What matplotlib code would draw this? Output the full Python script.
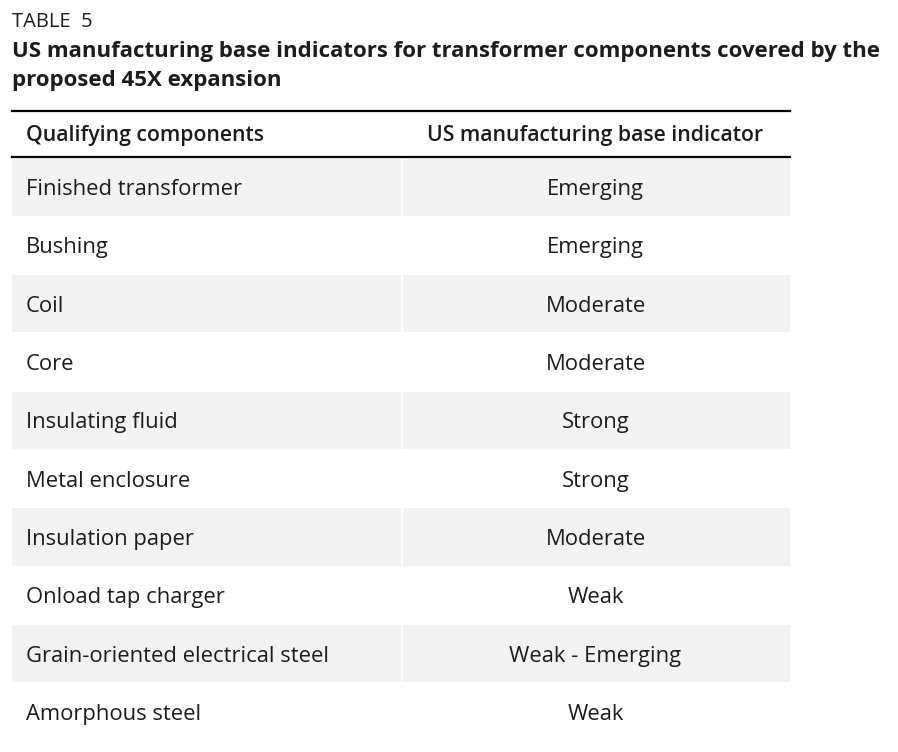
import matplotlib.pyplot as plt
from matplotlib.patches import Rectangle

plt.rcParams['font.family'] = ['Open Sans', 'DejaVu Sans']

LABEL = "TABLE  5"
TITLE = ("US manufacturing base indicators for transformer components covered by the\n"
         "proposed 45X expansion")
HEADERS = ["Qualifying components", "US manufacturing base indicator"]
COMPONENTS = [
    "Finished transformer",
    "Bushing",
    "Coil",
    "Core",
    "Insulating fluid",
    "Metal enclosure",
    "Insulation paper",
    "Onload tap charger",
    "Grain-oriented electrical steel",
    "Amorphous steel",
]
INDICATORS = [
    "Emerging",
    "Emerging",
    "Moderate",
    "Moderate",
    "Strong",
    "Strong",
    "Moderate",
    "Weak",
    "Weak - Emerging",
    "Weak",
]

W, H = 898, 752
LEFT, RIGHT, SPLIT = 12, 790, 401
TOP_RULE, HEAD_RULE = 111, 157
ROW_H = 58.3
SHADE = "#f2f2f2"
INK = "#1c1c1c"

fig = plt.figure(figsize=(W / 100, H / 100), dpi=100)
ax = fig.add_axes([0, 0, 1, 1])
ax.set_xlim(0, W)
ax.set_ylim(H, 0)
ax.axis("off")

ax.text(LEFT, 22, LABEL, fontsize=14.5, color=INK, va="center", ha="left")
ax.text(LEFT, 66, TITLE, fontsize=16, fontweight="bold", color=INK,
        va="center", ha="left", linespacing=1.5)

ax.plot([LEFT, RIGHT], [TOP_RULE, TOP_RULE], color="black", lw=1.6)
ax.plot([LEFT, RIGHT], [HEAD_RULE, HEAD_RULE], color="black", lw=1.6)

head_y = (TOP_RULE + HEAD_RULE) / 2 + 1.5
ax.text(LEFT + 14, head_y, HEADERS[0], fontsize=15.3, fontweight="semibold",
        color=INK, va="center", ha="left")
ax.text((SPLIT + RIGHT) / 2, head_y, HEADERS[1], fontsize=15.3,
        fontweight="semibold", color=INK, va="center", ha="center")

for i, (comp, ind) in enumerate(zip(COMPONENTS, INDICATORS)):
    y0 = HEAD_RULE + 1.5 + i * ROW_H
    if i % 2 == 0:
        ax.add_patch(Rectangle((LEFT, y0), SPLIT - LEFT, ROW_H - 1,
                               facecolor=SHADE, edgecolor="none"))
        ax.add_patch(Rectangle((SPLIT + 1.5, y0), RIGHT - SPLIT - 1.5, ROW_H - 1,
                               facecolor=SHADE, edgecolor="none"))
    yc = y0 + ROW_H / 2 + 2
    ax.text(LEFT + 14, yc, comp, fontsize=15.8, color=INK, va="center", ha="left")
    ax.text((SPLIT + RIGHT) / 2, yc, ind, fontsize=15.8, color=INK,
            va="center", ha="center")

fig.savefig("out.png", dpi=100)
